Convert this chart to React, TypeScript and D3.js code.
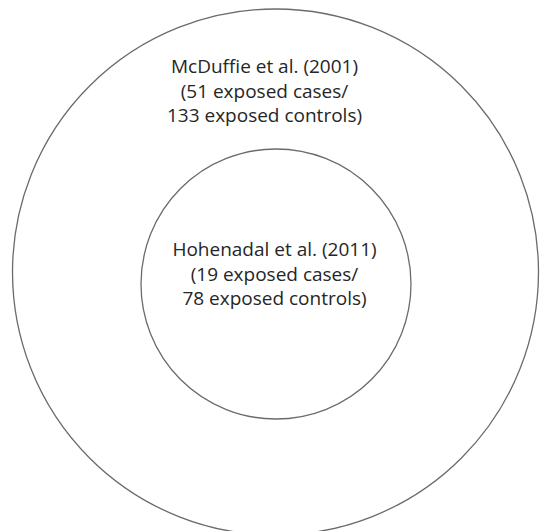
import React, { useEffect, useRef } from "react";
import * as d3 from "d3";

// studies, outermost first
const studies = ["McDuffie et al. (2001)", "Hohenadal et al. (2011)"];
const exposedCases = [51, 19];
const exposedControls = [133, 78];

const width = 540;
const height = 531;

export default function App() {
  const ref = useRef<SVGSVGElement>(null);

  useEffect(() => {
    const svg = d3.select(ref.current);
    svg.selectAll("*").remove();

    const totals = studies.map((s, i) => exposedCases[i] + exposedControls[i]);
    // circle size grows with the number of exposed subjects
    const r = d3.scaleLinear()
      .domain(d3.extent(totals) as [number, number])
      .range([135, 263]);

    const data = studies.map((name, i) => ({
      name,
      cases: exposedCases[i],
      controls: exposedControls[i],
      total: totals[i],
    }));

    // layout: circle centre and label offset (from centre) for each ring
    const centres = [[275.5, 272], [276, 284]];
    const labelTop = [-199, -28];

    const g = svg.selectAll("g.study")
      .data(data)
      .enter().append("g")
      .attr("class", "study")
      .attr("transform", (d, i) => "translate(" + centres[i][0] + "," + centres[i][1] + ")");

    g.append("circle")
      .attr("r", d => r(d.total))
      .attr("fill", "none")
      .attr("stroke", "#6b6b6b")
      .attr("stroke-width", 1.3);

    const text = g.append("text")
      .attr("text-anchor", "middle")
      .attr("font-family", "'Open Sans', sans-serif")
      .attr("font-size", 19)
      .attr("fill", "#262626")
      .attr("x", (d, i) => (i === 0 ? -11 : -1.5))
      .attr("y", (d, i) => labelTop[i]);

    text.each(function (d) {
      const lines = [d.name, "(" + d.cases + " exposed cases/", d.controls + " exposed controls)"];
      const t = d3.select(this);
      const x = t.attr("x");
      lines.forEach((line, k) => {
        t.append("tspan")
          .attr("x", x)
          .attr("dy", k === 0 ? 0 : 24.5)
          .text(line);
      });
    });
  }, []);

  return (
    <svg
      ref={ref}
      width={width}
      height={height}
      style={{ position: "absolute", left: 0, top: 0, background: "#fff" }}
    />
  );
}
